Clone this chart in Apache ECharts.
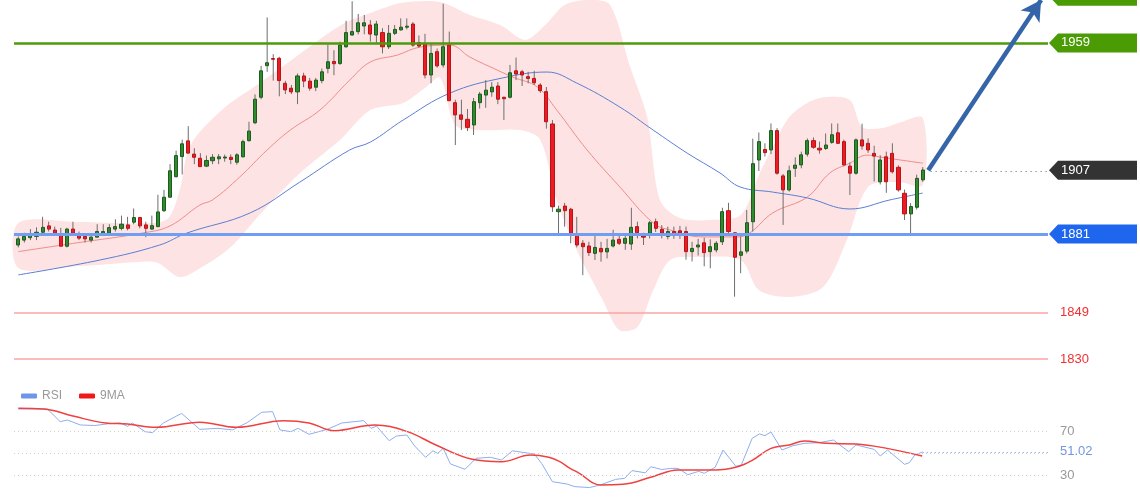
<!DOCTYPE html>
<html>
<head>
<meta charset="utf-8">
<title>Price chart with Bollinger bands and RSI</title>
<script src="https://cdn.jsdelivr.net/npm/echarts@6.0.0/dist/echarts.min.js"></script>
<style>
  html, body { margin: 0; padding: 0; background: #fff; }
  #main { width: 1140px; height: 500px; }
</style>
</head>
<body>
<div id="main"></div>
<script>
// one entry per session, the index is the x position
const opens = [
  1876.5, 1878.5, 1879.5, 1880, 1881.7, 1884.3, 1882.6, 1881, 1876, 1883,
  1881, 1880, 1878.5, 1879.7, 1881.3, 1881.3, 1883, 1883.3, 1884.7, 1885.8,
  1887.7, 1884.7, 1883, 1884, 1890.5, 1896, 1904.4, 1912.6, 1919, 1913.6,
  1911.9, 1908.7, 1910.9, 1911.7, 1912, 1912.3, 1910.3, 1912.5, 1919.1, 1926.4,
  1936.8, 1949.7, 1952.6, 1952.7, 1942.5, 1940.5, 1939, 1945.5, 1943.4, 1940.9,
  1943.6, 1948.6, 1951.4, 1950.6, 1957.4, 1962.2, 1963.6, 1965.9, 1966.3, 1962.2,
  1963.2, 1957.4, 1962.9, 1964.3, 1965.4, 1966.7, 1959.1, 1958.5, 1945.9, 1955.4,
  1950, 1958.1, 1934.6, 1929.6, 1927.8, 1925.5, 1934.6, 1937.7, 1939, 1941.4,
  1936.8, 1936.8, 1947.6, 1947.2, 1945.2, 1944.5, 1941.8, 1939.1, 1925.9, 1890.1,
  1892.4, 1891.1, 1881, 1877.2, 1876.1, 1873.1, 1875.1, 1873.7, 1876.1, 1878.8,
  1877.2, 1876.9, 1884, 1880.2, 1881.3, 1886, 1882.9, 1880, 1882, 1882.3,
  1882, 1873.8, 1875.7, 1877.4, 1873.8, 1874.5, 1877.8, 1890.5, 1881.5, 1872.3,
  1874, 1886, 1911.2, 1915.5, 1915.3, 1923.2, 1904.7, 1899, 1907.8, 1909.2,
  1913.6, 1919.1, 1916, 1915.9, 1918.4, 1922.3, 1918.7, 1908.7, 1905.8, 1919.4,
  1918, 1913.9, 1902.3, 1912.5, 1913.9, 1908.2, 1897.6, 1889.2, 1891.9, 1903.1
];
const closes = [
  1879, 1880, 1880.7, 1881.7, 1883.7, 1883, 1881.3, 1876, 1883, 1881.3,
  1879.3, 1879, 1879.7, 1882, 1882, 1883.6, 1884, 1885, 1883.3, 1887.7,
  1884.3, 1883.3, 1884.4, 1890, 1896, 1906.8, 1913, 1917.8, 1914, 1912.3,
  1908.5, 1911, 1912.3, 1912.5, 1912.4, 1911.4, 1913.3, 1918.7, 1923, 1936,
  1947.6, 1950.9, 1952.3, 1943.6, 1939.8, 1939, 1945.5, 1943.4, 1940.5, 1943.8,
  1947.2, 1951.3, 1950.5, 1958.1, 1963.2, 1963.6, 1967.2, 1967.2, 1962.6, 1966.7,
  1957.4, 1962.9, 1964.5, 1965.4, 1965.8, 1958.1, 1957.7, 1945.9, 1954.7, 1949.6,
  1957.4, 1935.4, 1929.6, 1927.8, 1924.5, 1935, 1938.1, 1939.7, 1940.9, 1936,
  1936.2, 1946.8, 1946.3, 1945.9, 1944.5, 1942.7, 1939.5, 1926.8, 1892.1, 1891.1,
  1890.5, 1881.3, 1876.5, 1875.8, 1873.4, 1875.5, 1873.7, 1875.1, 1878.5, 1877.2,
  1879.2, 1883.7, 1881.5, 1879.7, 1885.6, 1883.3, 1881.3, 1882, 1881, 1881.3,
  1873.8, 1875.1, 1876.5, 1873.4, 1875.8, 1877.2, 1890.1, 1882, 1871.5, 1873.7,
  1885.6, 1909.7, 1918.7, 1914.2, 1923.2, 1905.8, 1899, 1906.8, 1909.1, 1913.3,
  1919.1, 1916.4, 1915.3, 1917.3, 1921.5, 1918, 1909.2, 1905.8, 1919.4, 1916.9,
  1915.3, 1912.8, 1911.2, 1902.3, 1906.4, 1899, 1889.2, 1892.2, 1903.7, 1907.1
];
const highs = [
  1880, 1881.5, 1883, 1883.7, 1888, 1886, 1884, 1883.5, 1883.5, 1886,
  1882, 1881, 1881, 1885, 1885, 1885, 1887, 1888.5, 1888, 1891.4,
  1888, 1886, 1888.5, 1897, 1899, 1909.5, 1915, 1919.5, 1925, 1916,
  1914, 1913, 1913.6, 1913.6, 1913.4, 1913.5, 1914, 1919.5, 1926.8, 1938,
  1949.6, 1969.4, 1954.4, 1953.3, 1943.5, 1941.8, 1946.5, 1946.8, 1944.7, 1944.7,
  1948.5, 1958.3, 1956, 1959.5, 1968, 1976, 1970.8, 1970.4, 1968.3, 1968,
  1965, 1966.3, 1966.3, 1969, 1969, 1967.5, 1962, 1962.7, 1959, 1956.7,
  1975, 1963.6, 1935.8, 1935.8, 1932, 1936.5, 1939, 1943.8, 1943, 1943,
  1937, 1950, 1953, 1948, 1947.2, 1947.6, 1942.5, 1941, 1927.5, 1892.5,
  1893.7, 1891.7, 1888, 1878.5, 1877.8, 1881, 1877.8, 1879, 1882.7, 1881.3,
  1881.3, 1891.7, 1886, 1881.5, 1886.3, 1887.3, 1884.6, 1884, 1884, 1884.3,
  1884, 1877.8, 1879, 1879.5, 1878.8, 1878.1, 1891.7, 1893.7, 1881.5, 1880,
  1890.8, 1919.9, 1922.4, 1918, 1926.1, 1924.2, 1905.5, 1908.9, 1912.3, 1914.6,
  1920, 1920.4, 1918.7, 1922, 1926.1, 1926.1, 1919.5, 1910.2, 1920, 1926,
  1920, 1917, 1913.1, 1914.6, 1918, 1909, 1899.1, 1893.6, 1905.2, 1908.3
];
const lows = [
  1875.5, 1877.5, 1878.5, 1878.5, 1881.3, 1882, 1880.5, 1876, 1875.5, 1880.5,
  1878.5, 1877.5, 1877.5, 1879.7, 1880.5, 1880.5, 1882, 1882.5, 1882.5, 1885,
  1883.3, 1879.7, 1882.7, 1884, 1890, 1896, 1904, 1905.3, 1914, 1909.5,
  1908.5, 1908.3, 1909.5, 1909.5, 1910.5, 1909.5, 1909.3, 1912.2, 1918.7, 1925.8,
  1936, 1947.2, 1943.6, 1937.2, 1938.1, 1938.1, 1934, 1940.9, 1939.5, 1939.3,
  1942.5, 1946.6, 1945.8, 1950, 1957, 1962, 1962.5, 1962.5, 1959.5, 1959,
  1954.7, 1956.5, 1962.2, 1964, 1964.5, 1957.4, 1957, 1944.5, 1942.5, 1948.9,
  1948.9, 1935.4, 1917.3, 1923.4, 1923, 1921.4, 1932.2, 1932.5, 1937, 1934,
  1927.5, 1936.3, 1943.8, 1941.4, 1942.5, 1941.8, 1938.6, 1924, 1890, 1881,
  1884, 1877.2, 1875.5, 1864.2, 1872, 1870.4, 1869.7, 1871, 1875.5, 1876.5,
  1874.5, 1874.5, 1879.2, 1876.5, 1879.2, 1881.8, 1879.2, 1878.8, 1879, 1879,
  1870.5, 1869.8, 1872.2, 1867.8, 1867, 1873.5, 1876.5, 1880.8, 1855.4, 1865,
  1873, 1882, 1906.7, 1912.6, 1913.6, 1905.2, 1884.7, 1898.3, 1904.3, 1907.8,
  1912.6, 1915.8, 1913.8, 1915.3, 1917.8, 1917.8, 1908.6, 1896.9, 1905.2, 1915.4,
  1914.1, 1902.4, 1901.2, 1897.8, 1905.7, 1898.3, 1886.7, 1881.2, 1891, 1902.3
];

// Bollinger band edges and moving averages as [index, value]
const bbUpper = [
  [0, 1885.5], [10, 1885.9], [20, 1885.3], [24.5, 1887], [26.6, 1899], [28.3, 1917],
  [33.7, 1932], [39.3, 1941.8], [44.8, 1951.6], [50.2, 1961.4], [54.1, 1967.5], [58, 1971.2],
  [63, 1975.3], [69.5, 1975.7], [74.4, 1970.4], [79.4, 1966.3], [83.5, 1960.2], [86.8, 1966.3],
  [90, 1974.5], [94, 1976.5], [97.5, 1974.5], [100.8, 1949.2], [103.6, 1928.7], [105.7, 1894.9],
  [109, 1887.5], [114, 1886.7], [119, 1888.7], [122, 1905], [124.3, 1916.5], [127, 1928.7],
  [130, 1934.5], [133, 1936.9], [137, 1935.7], [139, 1924.7], [142.5, 1924.3], [145, 1926.3],
  [149, 1928.3]
];
const bbLower = [
  [0, 1867.1], [10, 1867.9], [20, 1869.6], [23, 1869.2], [26.6, 1863.4], [30, 1867.1],
  [35, 1875.7], [40, 1889.6], [46.4, 1905.9], [53, 1919.4], [58, 1931.6], [63.4, 1934.5],
  [67, 1940.6], [69.5, 1944.7], [72, 1925.5], [76, 1923.4], [82.7, 1923.4], [86, 1919.4],
  [88.7, 1894.9], [92, 1874.5], [96.3, 1854], [99, 1841.8], [102, 1843], [104.6, 1858.1],
  [107.4, 1870.4], [112, 1871.6], [119, 1870.4], [122, 1858.1], [127, 1855.3], [132.6, 1859.4],
  [136.5, 1878.5], [140, 1900.2], [145, 1902.2], [149, 1901]
];
const maRed = [
  [0, 1873.8], [9.7, 1877.4], [20.5, 1881.4], [25, 1884.3], [29.9, 1892.8], [32, 1894.9],
  [36.5, 1904.3], [41, 1915.3], [44.8, 1923.4], [49.7, 1931.6], [54.6, 1943.8], [58, 1951.2],
  [62.4, 1954], [66.2, 1957.3], [71.1, 1958.1], [74.4, 1953.2], [78.9, 1947.9], [81.5, 1945],
  [85.5, 1941], [88.7, 1931.6], [93.7, 1915.3], [99.1, 1900.2], [104.6, 1885.5], [107.4, 1882.6],
  [112.8, 1879.8], [118.4, 1879.8], [120.5, 1881.4], [124.3, 1889.6], [130, 1896.1], [133.7, 1905.9],
  [137, 1909.9], [139.8, 1913.2], [142, 1912.4], [145.3, 1911.2], [149, 1909.9]
];
const maBlue = [
  [0, 1864.3], [13.5, 1870.4], [23.3, 1876.5], [27.8, 1881.4], [38.2, 1889.6], [46.4, 1902.2],
  [54.6, 1915.3], [58, 1918.5], [63.4, 1927.5], [71.1, 1938.5], [79.8, 1944.7], [87.1, 1947.1],
  [92, 1942.6], [99.1, 1932.8], [104.6, 1923.4], [110.2, 1914], [115.6, 1905.9], [118.9, 1900.2],
  [124.3, 1898.1], [130, 1895.7], [137, 1891.2], [143.6, 1894.9], [149, 1897.7]
];

// RSI panel
const rsiValues = [
  [0, 90], [4.8, 90], [6.9, 78.5], [8.1, 80], [10.2, 75.5], [12.6, 75], [14.9, 76.6], [16.8, 77.3],
  [18, 74.2], [18.8, 77.3], [20.9, 69.4], [22.1, 68.5], [23.9, 77.3], [26.9, 86], [29.9, 71.5],
  [32.9, 72.4], [35.3, 71], [37.7, 77.6], [40.1, 87], [41.9, 87.6], [43.1, 71], [44.9, 69.4],
  [46.1, 72.4], [47.9, 67], [50.9, 71.5], [53.3, 77.3], [56.9, 79.4], [58.1, 72.4], [59, 74.5],
  [61.1, 61.2], [62.3, 65.4], [64, 66.4], [65.3, 56.4], [67.1, 46.1], [68.3, 52], [69.1, 49.7],
  [70, 54.2], [71.2, 40], [73.6, 35.2], [75.4, 45.2], [77.8, 46.1], [79.6, 43.6], [81.4, 52],
  [85, 49.1], [86.2, 40.6], [88, 23.9], [90.4, 21.8], [91.7, 19.4], [94.1, 18.6], [95.9, 21],
  [98.4, 26], [99.9, 27], [101.1, 34], [103.3, 32], [104.2, 37.5], [106, 35], [107.5, 36],
  [108.7, 36], [110.3, 30.3], [112.1, 33.3], [113, 31.5], [114.8, 37], [116.1, 52.7], [118.2, 38],
  [119.1, 39], [120.9, 63.3], [122.1, 67.3], [123, 65.8], [124, 69.1], [125.8, 52.7], [127.6, 56.6],
  [129.5, 58.8], [131.9, 59.4], [134.3, 61.8], [136.8, 51.2], [138, 57.3], [141, 53.3], [142, 47.3],
  [143.2, 52.7], [146, 39.7], [146.8, 41.2], [147.7, 48.2], [149, 51.02]
];
const rsiMa = [
  [0, 90.6], [4.2, 90], [9, 83.6], [14.4, 77.3], [18, 76.4], [22.7, 73.3], [29.9, 77.9],
  [35.9, 73.3], [43.7, 79.4], [47.9, 77.3], [52.1, 70.3], [58.7, 75.5], [64.1, 69.4], [68.8, 57.3],
  [74.8, 44.3], [79.6, 42.1], [84.4, 48.2], [87.4, 46.1], [89.2, 42.1], [90.9, 36.1], [92.3, 32],
  [95.9, 21], [99.6, 21.6], [104.5, 28.5], [108.7, 34.5], [114.8, 34.5], [118.5, 37.5], [120.9, 43.3],
  [124, 54.2], [127, 57.3], [129.5, 60.9], [133.2, 58.8], [138, 58.2], [143.1, 54.2], [148.9, 47.3]
];

// levels drawn across the chart
const resistance = 1959;
const support = 1881;
const lowerLevels = [1849, 1830];
const lastPrice = 1907;
const target = 1978;
const rsiLevels = [70, 50, 30];
const rsiLast = 51.02;

window.onload = function () {
  const myChart = echarts.init(document.getElementById("main"));
  const font = '"Liberation Sans", Arial, sans-serif';
  const xMin = -0.708;
  const xMax = 169.637;
  const yMax = 1976.5;
  const lastIdx = closes.length - 1;

  const bodies = opens.map((o, i) => [i, o, closes[i], Math.min(o, closes[i]), Math.max(o, closes[i])]);
  const wicks = lows.map((l, i) => [i, l, highs[i]]);

  const redLines = lowerLevels.map(v => ({
    yAxis: v,
    lineStyle: { color: "#f8a4a4", width: 1.5, type: "solid" },
    label: { show: true, position: "end", distance: 12, formatter: String(v), color: "#f23030", fontSize: 13, fontFamily: font }
  }));

  const rsiLines = rsiLevels.map(v => ({
    yAxis: v,
    lineStyle: { color: "#cfcfcf", width: 1, type: [1, 3] },
    label: { show: v !== 50, position: "end", distance: 12, formatter: String(v), color: "#999", fontSize: 13, fontFamily: font }
  }));

  const options = {
    animation: false,
    textStyle: { fontFamily: font },
    grid: [
      { left: 14, right: 92, top: 0, height: 370 },
      { left: 14, right: 92, top: 398, height: 99 }
    ],
    xAxis: [
      { type: "value", gridIndex: 0, min: xMin, max: xMax, show: false },
      { type: "value", gridIndex: 1, min: xMin, max: xMax, show: false }
    ],
    yAxis: [
      { type: "value", gridIndex: 0, min: 1825.48, max: yMax, show: false },
      { type: "value", gridIndex: 1, min: 10, max: 100, show: false }
    ],
    legend: {
      data: ["RSI", "9MA"],
      left: 16,
      top: 385,
      icon: "roundRect",
      itemWidth: 16,
      itemHeight: 5,
      itemGap: 17,
      textStyle: { color: "#999", fontSize: 12 }
    },
    series: [
      {
        name: "band",
        type: "custom",
        xAxisIndex: 0,
        yAxisIndex: 0,
        silent: true,
        clip: false,
        z: 1,
        data: [[0, bbUpper[0][1]]],
        renderItem: function (params, api) {
          const top = bbUpper.map(p => api.coord(p));
          const bottom = bbLower.slice().reverse().map(p => api.coord(p));
          return {
            type: "polygon",
            shape: { points: top.concat(bottom), smooth: 0.3 },
            style: { fill: "#fde3e3" }
          };
        }
      },
      {
        name: "MA",
        type: "line",
        xAxisIndex: 0,
        yAxisIndex: 0,
        data: maRed,
        smooth: 0.4,
        showSymbol: false,
        silent: true,
        z: 2,
        lineStyle: { color: "#f08c8c", width: 1 },
        markLine: {
          silent: true,
          symbol: "none",
          animation: false,
          label: { show: false },
          data: [
            { yAxis: resistance, lineStyle: { color: "#4b9b0b", width: 2.5, type: "solid" } },
            { yAxis: support, lineStyle: { color: "#6f9ef2", width: 3, type: "solid" } },
            ...redLines,
            [
              { coord: [lastIdx + 1.3, lastPrice - 0.3], lineStyle: { color: "#666", width: 1, type: [1, 4] } },
              { coord: [xMax, lastPrice - 0.3] }
            ],
            // the arrow points at the target above the top edge; it ends where the chart is cut
            [
              { coord: [lastIdx + 0.9, lastPrice], symbol: "none", lineStyle: { color: "#3565a8", width: 4.5, type: "solid" } },
              { coord: [168.5, yMax], symbol: "arrow", symbolSize: [17, 20] }
            ]
          ]
        }
      },
      {
        name: "MA long",
        type: "line",
        xAxisIndex: 0,
        yAxisIndex: 0,
        data: maBlue,
        smooth: 0.4,
        showSymbol: false,
        silent: true,
        z: 2,
        lineStyle: { color: "#5b7fd2", width: 1 }
      },
      {
        name: "wicks",
        type: "custom",
        xAxisIndex: 0,
        yAxisIndex: 0,
        data: wicks,
        encode: { x: 0, y: [1, 2] },
        silent: true,
        z: 3,
        renderItem: function (params, api) {
          const lo = api.coord([api.value(0), api.value(1)]);
          const hi = api.coord([api.value(0), api.value(2)]);
          return {
            type: "line",
            shape: { x1: lo[0], y1: lo[1], x2: hi[0], y2: hi[1] },
            style: { stroke: "#6e6e6e", lineWidth: 1 }
          };
        }
      },
      {
        name: "candles",
        type: "candlestick",
        xAxisIndex: 0,
        yAxisIndex: 0,
        data: bodies,
        barWidth: 3.6,
        silent: true,
        z: 4,
        itemStyle: { color: "#2e8b2e", color0: "#ec1c24", borderColor: "#1f5a1f", borderColor0: "#b81418", borderWidth: 1 }
      },
      {
        name: "RSI",
        type: "line",
        xAxisIndex: 1,
        yAxisIndex: 1,
        data: rsiValues,
        showSymbol: false,
        silent: true,
        color: "#6f95e6",
        lineStyle: { color: "#8eaeec", width: 1 },
        markLine: {
          silent: true,
          symbol: "none",
          animation: false,
          data: [
            ...rsiLines,
            [
              { coord: [lastIdx, rsiLast], lineStyle: { color: "#7a9be6", width: 1, type: [1, 3] },
                label: { show: true, position: "end", distance: 12, formatter: String(rsiLast), color: "#7396e4", fontSize: 13, fontFamily: font } },
              { coord: [xMax, rsiLast] }
            ]
          ]
        }
      },
      {
        name: "9MA",
        type: "line",
        xAxisIndex: 1,
        yAxisIndex: 1,
        data: rsiMa,
        smooth: 0.4,
        showSymbol: false,
        silent: true,
        color: "#f01818",
        lineStyle: { color: "#f04040", width: 1.5 }
      }
    ]
  };

  myChart.setOption(options);

  // price tags on the right, placed with the chart's own scale
  const tagValues = [target, resistance, lastPrice, support];
  const tagColors = ["#4a9b04", "#4a9b04", "#333333", "#1e66ee"];
  const graphics = [];
  tagValues.forEach((v, k) => {
    const p = myChart.convertToPixel({ seriesIndex: 1 }, [xMax, v]);
    const x0 = p[0] + 1;
    const y = p[1];
    graphics.push({
      type: "polygon",
      silent: true,
      z: 20,
      shape: { points: [[x0, y], [x0 + 9, y - 9.5], [x0 + 88, y - 9.5], [x0 + 88, y + 9.5], [x0 + 9, y + 9.5]] },
      style: { fill: tagColors[k] }
    });
    graphics.push({
      type: "text",
      silent: true,
      z: 21,
      x: x0 + 12,
      y: y,
      style: { text: String(v), fill: "#fff", fontSize: 13, fontFamily: font, verticalAlign: "middle", align: "left" }
    });
  });
  myChart.setOption({ graphic: graphics });
};
</script>
</body>
</html>
